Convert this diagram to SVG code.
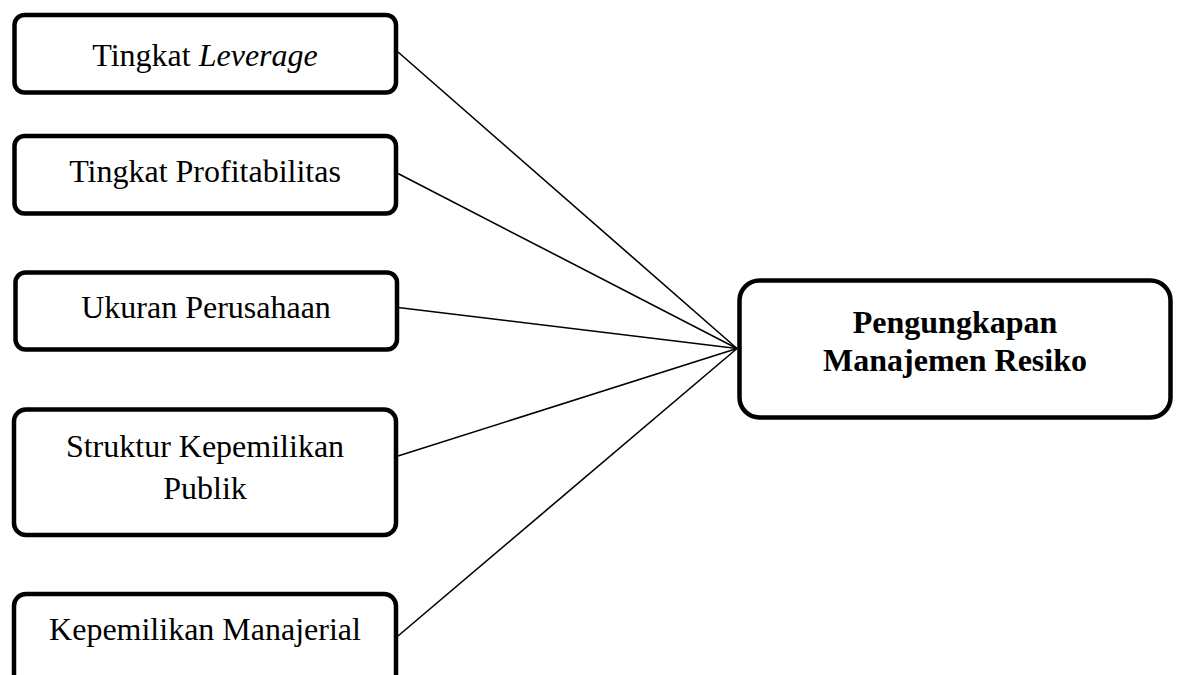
<svg xmlns="http://www.w3.org/2000/svg" width="1179" height="675" viewBox="0 0 1179 675">
<style>
.box{fill:#fff;stroke:#000;stroke-width:4.5}
.t{font-family:"Liberation Serif","Times New Roman",serif;font-size:32px;fill:#000;text-anchor:middle}
.b{font-weight:bold}
.c{stroke:#000;stroke-width:1.6;fill:none}
</style>
<rect width="1179" height="675" fill="#fff"/>
<g id="connectors">
<line class="c" x1="398" y1="52" x2="737" y2="348.5"/>
<line class="c" x1="398" y1="173.5" x2="737" y2="348.5"/>
<line class="c" x1="398" y1="307.5" x2="737" y2="348.5"/>
<line class="c" x1="398" y1="456" x2="737" y2="348.5"/>
<line class="c" x1="398" y1="636" x2="737" y2="348.5"/>
</g>
<g id="n1"><rect class="box" x="14.5" y="15" width="381.5" height="77.5" rx="10"/><text class="t" x="205" y="66">Tingkat <tspan font-style="italic">Leverage</tspan></text></g>
<g id="n2"><rect class="box" x="14.5" y="136" width="381.5" height="77.5" rx="10"/><text class="t" x="205" y="182">Tingkat Profitabilitas</text></g>
<g id="n3"><rect class="box" x="15.5" y="272.5" width="381.5" height="77" rx="10"/><text class="t" x="206" y="318">Ukuran Perusahaan</text></g>
<g id="n4"><rect class="box" x="14" y="409.5" width="382" height="125.5" rx="12"/><text class="t" x="205" y="457">Struktur Kepemilikan</text><text class="t" x="205" y="499">Publik</text></g>
<g id="n5"><rect class="box" x="14" y="594" width="382" height="110" rx="12"/><text class="t" x="205" y="640">Kepemilikan Manajerial</text></g>
<g id="n6"><rect class="box" x="739.5" y="280.5" width="431" height="137" rx="20"/><text class="t b" x="955" y="333">Pengungkapan</text><text class="t b" x="955" y="371">Manajemen Resiko</text></g>
</svg>
